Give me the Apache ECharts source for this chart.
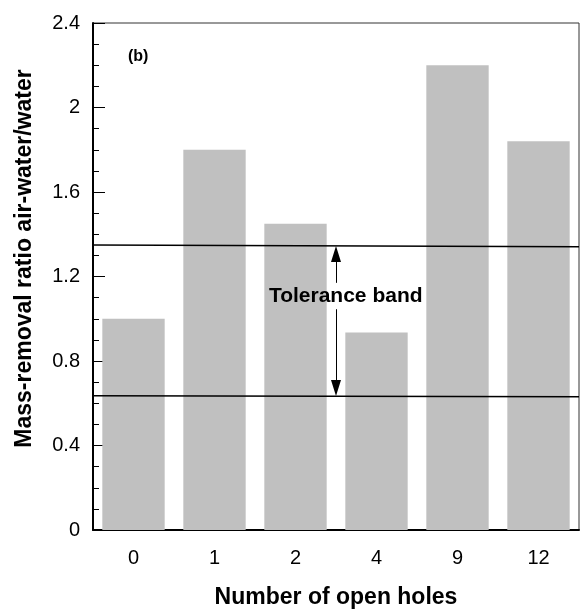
<!DOCTYPE html>
<html>
<head>
<meta charset="utf-8">
<script src="https://cdn.jsdelivr.net/npm/echarts@6/dist/echarts.min.js"></script>
<style>
  html, body { margin: 0; padding: 0; background: #fff; }
  #chart { width: 580px; height: 615px; }
</style>
</head>
<body>
<div id="chart"></div>
<script>
// number of open holes
const holes = ['0', '1', '2', '4', '9', '12']
// mass-removal ratio air-water/water
const ratios = [1.0, 1.8, 1.45, 0.935, 2.2, 1.84]
// tolerance band lines, start/end values across the plot
const bandUpper = [1.349, 1.341]
const bandLower = [0.636, 0.631]
// arrow segments (broken around the label); ends sit at the arrowhead centre
const arrowX = 3
const arrowUp = [1.17, 1.307]
const arrowDown = [1.045, 0.672]

const chart = echarts.init(document.getElementById('chart'))

const font = 'Liberation Sans, Arial, sans-serif'

const option = {
  animation: false,
  backgroundColor: '#fff',
  textStyle: { fontFamily: font },
  grid: {
    left: 93, top: 23, right: 1, bottom: 85,
    outerBoundsMode: 'none',
    containLabel: false,
    show: true, borderColor: '#333', borderWidth: 1, backgroundColor: 'transparent'
  },
  xAxis: [
    {
      type: 'category',
      data: holes,
      name: 'Number of open holes',
      nameLocation: 'middle',
      nameGap: 56,
      nameTextStyle: { fontSize: 23, fontWeight: 'bold', color: '#000', fontFamily: font },
      axisLine: { lineStyle: { color: '#000', width: 2 } },
      axisTick: { inside: true, length: 10, lineStyle: { color: '#000', width: 1 } },
      axisLabel: { fontSize: 20, color: '#000', margin: 18, fontFamily: font },
      splitLine: { show: false }
    },
    {
      type: 'value',
      min: 0,
      max: 6,
      show: false
    }
  ],
  yAxis: {
    type: 'value',
    min: 0,
    max: 2.4,
    interval: 0.4,
    name: 'Mass-removal ratio air-water/water',
    nameLocation: 'middle',
    nameGap: 57,
    nameTextStyle: { fontSize: 23, fontWeight: 'bold', color: '#000', fontFamily: font, padding: [0, 0, 0, 36] },
    axisLine: { show: true, lineStyle: { color: '#000', width: 2 } },
    axisTick: { inside: true, length: 12, lineStyle: { color: '#000', width: 1 } },
    minorTick: { show: true, splitNumber: 4, length: 6, lineStyle: { color: '#000', width: 1 } },
    axisLabel: { fontSize: 20, color: '#000', margin: 13, fontFamily: font },
    splitLine: { show: false }
  },
  series: [
    {
      type: 'bar',
      data: ratios,
      barCategoryGap: '23%',
      itemStyle: { color: '#c0c0c0' },
      silent: true
    },
    {
      type: 'line',
      xAxisIndex: 1,
      data: [[0, bandUpper[0]], [6, bandUpper[1]]],
      symbol: 'none',
      lineStyle: { color: '#000', width: 1.5 },
      silent: true
    },
    {
      type: 'line',
      xAxisIndex: 1,
      data: [[0, bandLower[0]], [6, bandLower[1]]],
      symbol: 'none',
      lineStyle: { color: '#000', width: 1.5 },
      silent: true,
      markLine: {
        silent: true,
        symbol: ['none', 'triangle'],
        symbolSize: [10, 16],
        lineStyle: { color: '#000', width: 1, type: 'solid' },
        label: { show: false },
        data: [
          [{ coord: [arrowX, arrowUp[0]] }, { coord: [arrowX, arrowUp[1]] }],
          [{ coord: [arrowX, arrowDown[0]] }, { coord: [arrowX, arrowDown[1]] }]
        ]
      },
      markPoint: {
        silent: true,
        symbol: 'circle',
        symbolSize: 0,
        label: {
          show: true,
          position: 'inside',
          formatter: 'Tolerance band',
          fontSize: 21,
          fontWeight: 'bold',
          color: '#000',
          fontFamily: font
        },
        data: [{ coord: [3.12, 1.108] }]
      }
    }
  ],
  graphic: [
    {
      type: 'text',
      left: 128,
      top: 49,
      style: { text: '(b)', font: 'bold 16px ' + font, fill: '#000' }
    }
  ]
}

chart.setOption(option)
</script>
</body>
</html>
